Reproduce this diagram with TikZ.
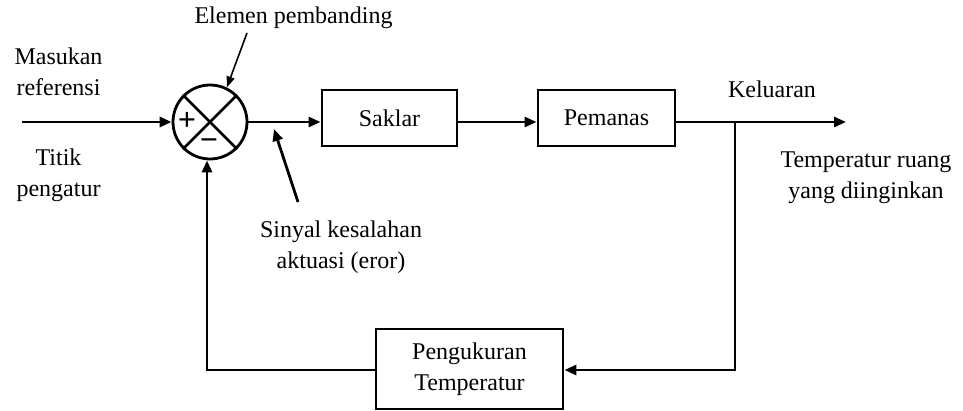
\documentclass[tikz,border=0pt]{standalone}
\usepackage{fontspec}
\setmainfont{Liberation Serif}
\usetikzlibrary{arrows.meta}
\begin{document}
\begin{tikzpicture}[x=1pt,y=-1pt,
  every node/.style={font=\fontsize{24}{31}\selectfont, inner sep=0pt},
  txt/.style={align=center},
  blk/.style={draw, line width=2.9pt, align=center},
  ln/.style={line width=2.8pt},
  arr/.style={ln, -{Triangle[length=12pt,width=10pt]}},
  thinarr/.style={line width=1.6pt, -{Triangle[length=11pt,width=8pt]}}]
\useasboundingbox (0,0) rectangle (963,411);
% summing junction
\node[circle, draw, line width=2.8pt, minimum size=74pt] (sum) at (210,122) {};
\draw[ln] (sum.north west) -- (sum.south east);
\draw[ln] (sum.north east) -- (sum.south west);
\node[font=\fontsize{32}{32}\bfseries] (plus) at (187,121) {+};
\node[font=\fontsize{32}{32}\bfseries] (minus) at (209,145) {−};
% blocks
\node[blk, minimum width=135pt, minimum height=56pt] (saklar) at (389.5,118) {Saklar};
\node[blk, minimum width=137pt, minimum height=56pt] (pemanas) at (606.5,118) {Pemanas};
\node[blk, minimum width=187pt, minimum height=80pt] (ukur) at (469.5,369) {Pengukuran\\Temperatur};
% coordinates
\coordinate (in) at (22,122);
\coordinate (br) at (735,122);
\coordinate (out) at (846,122);
\coordinate (fb) at (207,370);
\coordinate (brd) at (735,370);
% connectors
\draw[arr] (in) -- (sum.west);
\draw[arr] (sum.east) -- (sum.east -| saklar.west);
\draw[arr] (saklar.east |- sum.east) -- (pemanas.west |- sum.east);
\draw[ln] (pemanas.east |- br) -- (br);
\draw[arr] (br) -- (out);
\draw[arr] (br) -- (brd) -- (ukur.east |- brd);
\draw[arr] (ukur.west |- fb) -- (fb) -- (fb |- sum.south);
% labels
\node[txt] (masukan) at (58.5,72) {Masukan\\referensi};
\node[txt] (titik) at (58.5,175) {Titik\\pengatur};
\node[txt] (elem) at (293.5,18) {Elemen pembanding};
\node[txt] (sinyal) at (341,247) {Sinyal kesalahan\\aktuasi (eror)};
\node[txt] (kel) at (772,89) {Keluaran};
\node[txt] (temp) at (866,178) {Temperatur ruang\\yang diinginkan};
% pointer arrows
\coordinate (e1) at (247,33);
\coordinate (s1) at (298,202);
\coordinate (s2) at (274,129);
\draw[thinarr] (e1) -- (sum.64);
\draw[arr] (s1) -- (s2);
\end{tikzpicture}
\end{document}
